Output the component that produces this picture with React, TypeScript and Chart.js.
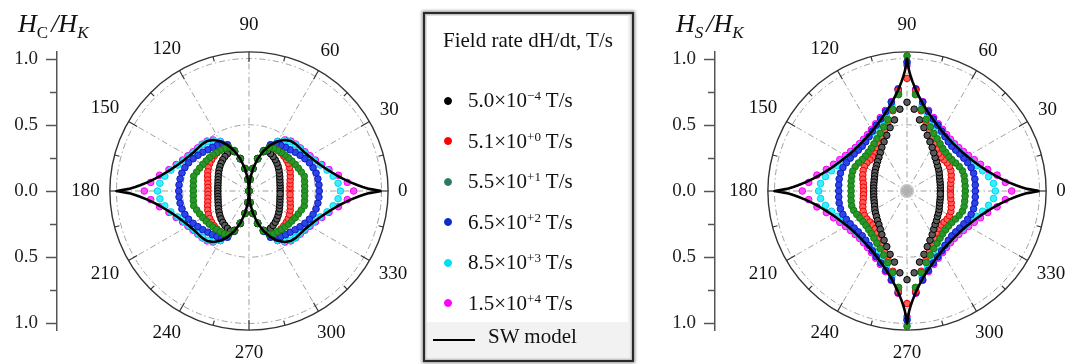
import React, { useEffect, useRef } from "react";
import { Chart, registerables } from "chart.js";

Chart.register(...registerables);

const SERIF = "'Liberation Serif', 'Times New Roman', serif";

// Field-angle grid of the measured points (degrees)
const ANGLES = [
  0, 5, 10, 15, 20, 25, 30, 35, 40, 45, 50, 55, 60, 65, 70, 75, 80, 85, 90,
  95, 100, 105, 110, 115, 120, 125, 130, 135, 140, 145, 150, 155, 160, 165, 170, 175,
  180, 185, 190, 195, 200, 205, 210, 215, 220, 225, 230, 235, 240, 245, 250, 255, 260, 265, 270,
  275, 280, 285, 290, 295, 300, 305, 310, 315, 320, 325, 330, 335, 340, 345, 350, 355,
];

// Legend labels (field rate mantissa / exponent)
const RATE_MANTISSA = ["5.0", "5.1", "5.5", "6.5", "8.5", "1.5"];
const RATE_EXPONENT = ["\u22124", "+0", "+1", "+2", "+3", "+4"];

// ---------- Left panel: H_C / H_K ----------
const HC_SW_ANGLES = [
  0, 1, 2, 3, 5, 7.5, 10, 15, 20, 25, 30, 35, 40, 45, 50, 55, 60, 65, 70, 75, 80, 85, 90,
  95, 100, 105, 110, 115, 120, 125, 130, 135, 140, 145, 150, 155, 160, 165, 170, 172.5, 175, 177, 178, 179, 180,
  181, 182, 183, 185, 187.5, 190, 195, 200, 205, 210, 215, 220, 225, 230, 235, 240, 245, 250, 255, 260, 265, 270,
  275, 280, 285, 290, 295, 300, 305, 310, 315, 320, 325, 330, 335, 340, 345, 350, 352.5, 355, 357, 358, 359, 360,
];
const HC_SW = [
  1, .907, .859, .823, .766, .714, .674, .615, .574, .545, .524, .51, .503, .5, .492, .47, .433, .383, .321, .25, .171, .087, 0,
  .087, .171, .25, .321, .383, .433, .47, .492, .5, .503, .51, .524, .545, .574, .615, .674, .714, .766, .823, .859, .907, 1,
  .907, .859, .823, .766, .714, .674, .615, .574, .545, .524, .51, .503, .5, .492, .47, .433, .383, .321, .25, .171, .087, 0,
  .087, .171, .25, .321, .383, .433, .47, .492, .5, .503, .51, .524, .545, .574, .615, .674, .714, .766, .823, .859, .907, 1,
];
const HC_5_0EM4 = [
  .235, .236, .238, .242, .248, .256, .265, .276, .287, .298, .308, .317, .325, .333, .315, .255, .172, .088, 0,
  .088, .172, .255, .315, .333, .325, .317, .308, .298, .287, .276, .265, .256, .248, .242, .238, .236,
  .235, .236, .238, .242, .248, .256, .265, .276, .287, .298, .308, .317, .325, .333, .315, .255, .172, .088, 0,
  .088, .172, .255, .315, .333, .325, .317, .308, .298, .287, .276, .265, .256, .248, .242, .238, .236,
];
const HC_5_1E0 = [
  .31, .311, .315, .322, .332, .343, .354, .362, .368, .372, .375, .376, .372, .36, .318, .252, .172, .088, 0,
  .088, .172, .252, .318, .36, .372, .376, .375, .372, .368, .362, .354, .343, .332, .322, .315, .311,
  .31, .311, .315, .322, .332, .343, .354, .362, .368, .372, .375, .376, .372, .36, .318, .252, .172, .088, 0,
  .088, .172, .252, .318, .36, .372, .376, .375, .372, .368, .362, .354, .343, .332, .322, .315, .311,
];
const HC_5_5E1 = [
  .42, .422, .426, .432, .42, .41, .402, .395, .39, .385, .38, .376, .372, .362, .32, .252, .172, .088, 0,
  .088, .172, .252, .32, .362, .372, .376, .38, .385, .39, .395, .402, .41, .42, .432, .426, .422,
  .42, .422, .426, .432, .42, .41, .402, .395, .39, .385, .38, .376, .372, .362, .32, .252, .172, .088, 0,
  .088, .172, .252, .32, .362, .372, .376, .38, .385, .39, .395, .402, .41, .42, .432, .426, .422,
];
const HC_6_5E2 = [
  .53, .53, .528, .524, .515, .503, .487, .47, .455, .44, .43, .42, .41, .385, .325, .252, .172, .088, 0,
  .088, .172, .252, .325, .385, .41, .42, .43, .44, .455, .47, .487, .503, .515, .524, .528, .53,
  .53, .53, .528, .524, .515, .503, .487, .47, .455, .44, .43, .42, .41, .385, .325, .252, .172, .088, 0,
  .088, .172, .252, .325, .385, .41, .42, .43, .44, .455, .47, .487, .503, .515, .524, .528, .53,
];
const HC_8_5E3 = [
  .69, .675, .645, .61, .572, .543, .522, .508, .5, .496, .485, .462, .43, .384, .322, .25, .171, .087, 0,
  .087, .171, .25, .322, .384, .43, .462, .485, .496, .5, .508, .522, .543, .572, .61, .645, .675,
  .69, .675, .645, .61, .572, .543, .522, .508, .5, .496, .485, .462, .43, .384, .322, .25, .171, .087, 0,
  .087, .171, .25, .322, .384, .43, .462, .485, .496, .5, .508, .522, .543, .572, .61, .645, .675,
];
const HC_1_5E4 = [
  .79, .745, .685, .625, .585, .553, .532, .516, .506, .5, .492, .47, .433, .383, .321, .25, .171, .087, 0,
  .087, .171, .25, .321, .383, .433, .47, .492, .5, .506, .516, .532, .553, .585, .625, .685, .745,
  .79, .745, .685, .625, .585, .553, .532, .516, .506, .5, .492, .47, .433, .383, .321, .25, .171, .087, 0,
  .087, .171, .25, .321, .383, .433, .47, .492, .5, .506, .516, .532, .553, .585, .625, .685, .745,
];

// ---------- Right panel: H_S / H_K ----------
const HS_SW_ANGLES = [
  0, 1, 2, 3, 5, 7.5, 10, 15, 20, 25, 30, 35, 40, 45, 50, 55, 60, 65, 70, 75, 80, 82.5, 85, 87, 88, 89,
  90, 91, 92, 93, 95, 97.5, 100, 105, 110, 115, 120, 125, 130, 135, 140, 145, 150, 155, 160, 165, 170, 172.5, 175, 177, 178, 179,
  180, 181, 182, 183, 185, 187.5, 190, 195, 200, 205, 210, 215, 220, 225, 230, 235, 240, 245, 250, 255, 260, 262.5, 265, 267, 268, 269,
  270, 271, 272, 273, 275, 277.5, 280, 285, 290, 295, 300, 305, 310, 315, 320, 325, 330, 335, 340, 345, 350, 352.5, 355, 357, 358, 359, 360,
];
const HS_SW = [
  1, .907, .859, .823, .766, .714, .674, .615, .574, .545, .524, .51, .503, .5, .503, .51, .524, .545, .574, .615, .674, .714, .766, .823, .859, .907,
  1, .907, .859, .823, .766, .714, .674, .615, .574, .545, .524, .51, .503, .5, .503, .51, .524, .545, .574, .615, .674, .714, .766, .823, .859, .907,
  1, .907, .859, .823, .766, .714, .674, .615, .574, .545, .524, .51, .503, .5, .503, .51, .524, .545, .574, .615, .674, .714, .766, .823, .859, .907,
  1, .907, .859, .823, .766, .714, .674, .615, .574, .545, .524, .51, .503, .5, .503, .51, .524, .545, .574, .615, .674, .714, .766, .823, .859, .907,
  1,
];
const HS_5_0EM4 = [
  .252, .252, .255, .258, .263, .27, .28, .29, .3, .315, .33, .352, .38, .41, .447, .495, .545, .62, .67,
  .62, .545, .495, .447, .41, .38, .352, .33, .315, .3, .29, .28, .27, .263, .258, .255, .252,
  .252, .252, .255, .258, .263, .27, .28, .29, .3, .315, .33, .352, .38, .41, .447, .495, .545, .62, .67,
  .62, .545, .495, .447, .41, .38, .352, .33, .315, .3, .29, .28, .27, .263, .258, .255, .252,
];
const HS_5_1E0 = [
  .327, .33, .335, .345, .355, .365, .37, .37, .365, .362, .368, .385, .41, .445, .49, .545, .615, .76, .85,
  .76, .615, .545, .49, .445, .41, .385, .368, .362, .365, .37, .37, .365, .355, .345, .335, .33,
  .327, .33, .335, .345, .355, .365, .37, .37, .365, .362, .368, .385, .41, .445, .49, .545, .615, .76, .85,
  .76, .615, .545, .49, .445, .41, .385, .368, .362, .365, .37, .37, .365, .355, .345, .335, .33,
];
const HS_5_5E1 = [
  .44, .44, .442, .446, .445, .435, .423, .413, .41, .413, .42, .435, .455, .48, .515, .56, .625, .73, 1.02,
  .73, .625, .56, .515, .48, .455, .435, .42, .413, .41, .413, .423, .432, .436, .432, .428, .424,
  .422, .424, .428, .432, .428, .418, .41, .405, .405, .41, .42, .435, .455, .48, .515, .56, .625, .73, 1.02,
  .73, .625, .56, .515, .48, .455, .435, .42, .413, .41, .413, .423, .435, .445, .446, .442, .44,
];
const HS_6_5E2 = [
  .515, .517, .52, .52, .515, .505, .495, .487, .48, .478, .485, .5, .522, .548, .578, .62, .68, .77, .975,
  .77, .68, .62, .578, .548, .522, .5, .485, .478, .48, .487, .495, .505, .515, .52, .52, .517,
  .515, .517, .52, .52, .515, .505, .495, .487, .48, .478, .485, .5, .522, .548, .578, .62, .68, .77, .975,
  .77, .68, .62, .578, .548, .522, .5, .485, .478, .48, .487, .495, .505, .515, .52, .52, .517,
];
const HS_8_5E3 = [
  .667, .655, .625, .59, .557, .532, .513, .5, .492, .49, .492, .5, .515, .535, .56, .6, .655, .745, .965,
  .745, .655, .6, .56, .535, .515, .5, .492, .49, .492, .5, .513, .532, .557, .59, .625, .655,
  .667, .655, .625, .59, .557, .532, .513, .5, .492, .49, .492, .5, .515, .535, .56, .6, .655, .745, .965,
  .745, .655, .6, .56, .535, .515, .5, .492, .49, .492, .5, .513, .532, .557, .59, .625, .655,
];
const HS_1_5E4 = [
  .79, .745, .69, .63, .59, .56, .536, .52, .51, .506, .51, .52, .537, .56, .59, .63, .685, .775, .95,
  .775, .685, .63, .59, .56, .537, .52, .51, .506, .51, .52, .536, .56, .59, .63, .69, .745,
  .79, .745, .69, .63, .59, .56, .536, .52, .51, .506, .51, .52, .537, .56, .59, .63, .685, .775, .95,
  .775, .685, .63, .59, .56, .537, .52, .51, .506, .51, .52, .536, .56, .59, .63, .69, .745,
];

const HC_SERIES = [HC_5_0EM4, HC_5_1E0, HC_5_5E1, HC_6_5E2, HC_8_5E3, HC_1_5E4];
const HS_SERIES = [HS_5_0EM4, HS_5_1E0, HS_5_5E1, HS_6_5E2, HS_8_5E3, HS_1_5E4];

// polar axis annotations
const ANGLE_LABELS = [0, 30, 60, 90, 120, 150, 180, 210, 240, 270, 300, 330];
const ANGLE_MINOR = [15, 45, 75, 105, 135, 165, 195, 225, 255, 285, 315, 345];
const GRID_RADII = [0.5, 1.0];
const OUTER_R = 1.05;
const Y_AXIS_TICKS = [-1, -0.75, -0.5, -0.25, 0, 0.25, 0.5, 0.75, 1];

// styles
const STROKE = ["#000000", "#f00000", "#0f7f0f", "#0a1cc8", "#00d6e8", "#f500f5"];
const FILL = ["#5a5a5a", "#ff5c5c", "#2a952a", "#2f44e4", "#3cecff", "#ff4dff"];
const DRAW_ORDER = [2, 0, 1, 3, 4, 5];
const LEGEND_FILL = ["#000000", "#ff0000", "#3b6a78", "#0a2ecc", "#00e0f5", "#ff00ff"];
const LEGEND_STROKE = ["#000000", "#ff0000", "#17a043", "#0a2ecc", "#00e0f5", "#ff00ff"];

function toXY(angles: number[], radii: number[]) {
  return radii.map((r, i) => {
    const t = (angles[i] * Math.PI) / 180;
    return { x: r * Math.cos(t), y: r * Math.sin(t) };
  });
}

function polarGrid(star: boolean) {
  return {
    id: "polarGrid",
    beforeDatasetsDraw(chart: any) {
      const { ctx, chartArea } = chart;
      const xs = chart.scales.x;
      const ys = chart.scales.y;
      const cx = xs.getPixelForValue(0);
      const cy = ys.getPixelForValue(0);
      const px = (v: number) => xs.getPixelForValue(v);
      const py = (v: number) => ys.getPixelForValue(v);
      const rx = (r: number) => px(r) - cx;
      const ry = (r: number) => cy - py(r);
      ctx.save();
      // dash-dot grid circles and spokes
      ctx.strokeStyle = "#a0a0a0";
      ctx.lineWidth = 1;
      ctx.setLineDash([6, 3, 1.5, 3]);
      for (const r of GRID_RADII) {
        ctx.beginPath();
        ctx.ellipse(cx, cy, rx(r), ry(r), 0, 0, Math.PI * 2);
        ctx.stroke();
      }
      for (const a of ANGLE_LABELS) {
        const t = (a * Math.PI) / 180;
        ctx.beginPath();
        ctx.moveTo(cx, cy);
        ctx.lineTo(cx + Math.cos(t) * rx(1), cy - Math.sin(t) * ry(1));
        ctx.stroke();
      }
      ctx.setLineDash([]);
      if (star) {
        ctx.strokeStyle = "#b0b0b0";
        for (let k = 0; k < 36; k++) {
          const t = (k * 10 * Math.PI) / 180;
          ctx.beginPath();
          ctx.moveTo(cx, cy);
          ctx.lineTo(cx + Math.cos(t) * 7, cy - Math.sin(t) * 7);
          ctx.stroke();
        }
      }
      // outer circle
      const R = rx(OUTER_R);
      const RY = ry(OUTER_R);
      ctx.strokeStyle = "#333";
      ctx.lineWidth = 1.4;
      ctx.beginPath();
      ctx.ellipse(cx, cy, R, RY, 0, 0, Math.PI * 2);
      ctx.stroke();
      // angular ticks (inward)
      ctx.lineWidth = 1.2;
      const tick = (a: number, len: number) => {
        const t = (a * Math.PI) / 180;
        const c = Math.cos(t);
        const s = Math.sin(t);
        ctx.beginPath();
        ctx.moveTo(cx + c * R, cy - s * RY);
        ctx.lineTo(cx + c * (R - len), cy - s * (RY - len));
        ctx.stroke();
      };
      for (const a of ANGLE_LABELS) tick(a, 10);
      for (const a of ANGLE_MINOR) tick(a, 5);
      // angle labels
      ctx.font = `19px ${SERIF}`;
      ctx.fillStyle = "#111";
      ctx.textAlign = "center";
      ctx.textBaseline = "middle";
      for (const a of ANGLE_LABELS) {
        const txt = String(a);
        const w = ctx.measureText(txt).width;
        const t = (a * Math.PI) / 180;
        const c = Math.cos(t);
        const s = Math.sin(t);
        let d = R + 10 + (w / 2) * Math.abs(c) + 9.5 * Math.abs(s);
        if (a === 90) d += 7;
        if (a === 270) d += 3;
        ctx.fillText(txt, cx + c * d, cy - s * d);
      }
      // y-axis tick marks (major / minor)
      const ax = chartArea.left;
      ctx.strokeStyle = "#555";
      ctx.lineWidth = 1.5;
      for (const v of Y_AXIS_TICKS) {
        const major = Math.abs(v * 2 - Math.round(v * 2)) < 1e-6;
        const len = major ? 11 : 7;
        const yy = Math.round(py(v)) + 0.5;
        ctx.beginPath();
        ctx.moveTo(ax - len, yy);
        ctx.lineTo(ax, yy);
        ctx.stroke();
      }
      ctx.restore();
    },
  };
}

type PlotProps = {
  left: number;
  width: number;
  xMax: number;
  swAngles: number[];
  swValues: number[];
  series: number[][];
  star: boolean;
};

function PolarPlot({ left, width, xMax, swAngles, swValues, series, star }: PlotProps) {
  const ref = useRef<HTMLCanvasElement>(null);
  useEffect(() => {
    if (!ref.current) return;
    const datasets: any[] = [
      {
        label: "SW model",
        data: toXY(swAngles, swValues),
        showLine: true,
        borderColor: "#000",
        backgroundColor: "#000",
        borderWidth: 2.6,
        borderJoinStyle: "round",
        pointRadius: 0,
        pointHoverRadius: 0,
        tension: 0,
        fill: false,
      },
    ];
    for (const i of DRAW_ORDER) {
      datasets.push({
        label: `${RATE_MANTISSA[i]}e${RATE_EXPONENT[i]}`,
        data: toXY(ANGLES, series[i]),
        showLine: false,
        pointRadius: 3.3,
        pointBorderWidth: 1,
        pointBackgroundColor: FILL[i],
        pointBorderColor: STROKE[i],
        backgroundColor: FILL[i],
        borderColor: STROKE[i],
      });
    }
    const chart = new Chart(ref.current, {
      type: "scatter",
      data: { datasets },
      options: {
        responsive: false,
        animation: false,
        devicePixelRatio: 1,
        events: [],
        layout: { padding: { left: 8, right: 5, top: 51.9, bottom: 33.9 } },
        plugins: { legend: { display: false }, tooltip: { enabled: false } },
        scales: {
          x: { type: "linear", display: false, min: -1.449, max: xMax },
          y: {
            type: "linear",
            min: -1.05,
            max: 1.05,
            afterFit: (s: any) => {
              s.width = 49;
            },
            grid: { display: false, drawTicks: false },
            border: { display: true, color: "#555", width: 1.5 },
            ticks: {
              stepSize: 0.5,
              includeBounds: false,
              padding: 19,
              color: "#222",
              font: { family: SERIF, size: 19 },
              callback: (v: any) => Math.abs(Number(v)).toFixed(1),
            },
          },
        },
      } as any,
      plugins: [polarGrid(star)],
    });
    return () => chart.destroy();
  }, []);
  return (
    <canvas
      ref={ref}
      width={width}
      height={364}
      style={{ position: "absolute", left, top: 0 }}
    />
  );
}

function Title({ left, sub1, sub1Italic }: { left: number; sub1: string; sub1Italic: boolean }) {
  const subStyle: React.CSSProperties = { fontSize: 17, verticalAlign: "-6px", lineHeight: 0 };
  return (
    <div
      style={{
        position: "absolute",
        left,
        top: 10,
        fontFamily: SERIF,
        fontSize: 26,
        lineHeight: "28px",
        fontStyle: "italic",
        color: "#111",
        whiteSpace: "nowrap",
      }}
    >
      H<span style={{ ...subStyle, fontStyle: sub1Italic ? "italic" : "normal" }}>{sub1}</span>
      <span style={{ marginLeft: 3 }}>/</span>H<span style={subStyle}>K</span>
    </div>
  );
}

function Legend() {
  return (
    <div
      style={{
        position: "absolute",
        left: 423,
        top: 12,
        width: 211,
        height: 350,
        boxSizing: "border-box",
        border: "2px solid #2a2a2a",
        background: "#f2f2f2",
        boxShadow: "0 0 3px 1px rgba(0,0,0,0.45), inset 0 0 2px 1px rgba(0,0,0,0.25)",
        fontFamily: SERIF,
        color: "#111",
      }}
    >
      <div style={{ position: "absolute", left: 2, top: 2, width: 201, height: 306, background: "#fff" }} />
      <div
        style={{
          position: "absolute",
          left: 18,
          top: 14,
          fontSize: 21,
          lineHeight: "24px",
          whiteSpace: "nowrap",
        }}
      >
        Field rate dH/dt, T/s
      </div>
      {RATE_MANTISSA.map((m, i) => (
        <React.Fragment key={i}>
          <div
            style={{
              position: "absolute",
              left: 19,
              top: 82.5 + 40.5 * i,
              width: 8,
              height: 8,
              boxSizing: "border-box",
              borderRadius: "50%",
              background: LEGEND_FILL[i],
              border: `1.5px solid ${LEGEND_STROKE[i]}`,
            }}
          />
          <div
            style={{
              position: "absolute",
              left: 43,
              top: 74 + 40.5 * i,
              fontSize: 21,
              lineHeight: "24px",
              whiteSpace: "nowrap",
            }}
          >
            {m}×10
            <span style={{ fontSize: 13, verticalAlign: "7px", lineHeight: 0 }}>{RATE_EXPONENT[i]}</span> T/s
          </div>
        </React.Fragment>
      ))}
      <div style={{ position: "absolute", left: 8, top: 325, width: 42, height: 2, background: "#000" }} />
      <div
        style={{
          position: "absolute",
          left: 63,
          top: 310,
          fontSize: 21,
          lineHeight: "24px",
          whiteSpace: "nowrap",
        }}
      >
        SW model
      </div>
    </div>
  );
}

export default function App() {
  return (
    <div
      style={{
        position: "absolute",
        left: 0,
        top: 0,
        width: 1077,
        height: 364,
        overflow: "hidden",
        background: "#fff",
      }}
    >
      <PolarPlot
        left={0}
        width={420}
        xMax={1.253}
        swAngles={HC_SW_ANGLES}
        swValues={HC_SW}
        series={HC_SERIES}
        star={false}
      />
      <PolarPlot
        left={658}
        width={419}
        xMax={1.245}
        swAngles={HS_SW_ANGLES}
        swValues={HS_SW}
        series={HS_SERIES}
        star={true}
      />
      <Title left={18} sub1="C" sub1Italic={false} />
      <Title left={676} sub1="S" sub1Italic={true} />
      <Legend />
    </div>
  );
}
